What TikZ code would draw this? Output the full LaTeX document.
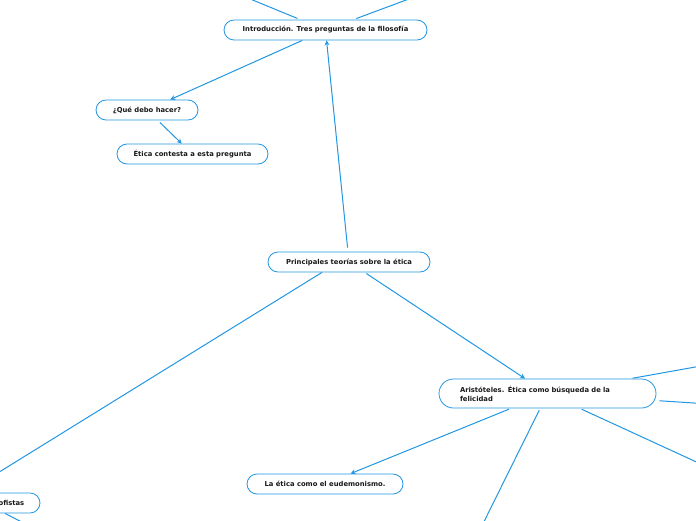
\documentclass[tikz,border=0pt]{standalone}
\usepackage{fontspec}
\setmainfont{DejaVu Sans}
\usepackage{xcolor}
\usepackage{tikz}
\usetikzlibrary{arrows.meta, positioning}

\definecolor{mapblue}{RGB}{33,150,226}
\definecolor{maptext}{RGB}{25,25,25}

\begin{document}
\begin{tikzpicture}[
  x=1pt, y=-1pt,
  font=\fontsize{6.8}{9}\selectfont\bfseries,
  >={Stealth[length=5pt,width=5pt]},
  topic/.style={
    rectangle, rounded corners=10pt, draw=mapblue, fill=white,
    line width=0.8pt, text=maptext, align=center,
    minimum height=20pt, inner ysep=2pt, inner xsep=4pt
  },
  bigtopic/.style={
    topic, rounded corners=14.5pt, align=left,
    minimum height=29pt, inner xsep=21pt
  },
  link/.style={->, line width=1pt, color=mapblue},
]
\useasboundingbox (0,0) rectangle (696,520);
\clip (0,0) rectangle (696,520);
%% Topics
\node[topic, minimum width=203pt] (intro) at (325.5,30) {Introducción. Tres preguntas de la filosofía};
\node[topic, minimum width=102pt] (hacer) at (147,110) {¿Qué debo hacer?};
\node[topic, minimum width=151pt] (contesta) at (192.5,154) {Ética contesta a esta pregunta};
\node[topic, minimum width=162pt] (teorias) at (349,262) {Principales teorías sobre la ética};
\node[bigtopic, text width=175pt] (aristoteles) at (547.5,393.5) {Aristóteles. Ética como búsqueda de la\\felicidad};
\node[topic, minimum width=156pt] (eudemonismo) at (325,484) {La ética como el eudemonismo.};
\node[topic, minimum width=62pt] (sofistas) at (9,503) {Sofistas};
%% Off-page ends
\coordinate (introA) at (204,-20);
\coordinate (introB) at (460,-20);
\coordinate (aristA) at (740,359);
\coordinate (aristB) at (740,406);
\coordinate (aristC) at (740,482);
\coordinate (aristD) at (465,560);
\coordinate (sofA) at (45,534);
%% Links
\draw[link, shorten <=3pt] (intro) -- (introA);
\draw[link, shorten <=3pt] (intro) -- (introB);
\draw[link] (intro) -- (hacer);
\draw[link, shorten <=3pt] (hacer) -- (contesta);
\draw[link, shorten <=4pt] (teorias) -- (intro);
\draw[link, shorten <=2pt] (teorias) -- (aristoteles);
\draw[link] ([xshift=-27pt]teorias.south) -- ([xshift=-43pt]sofistas.north);
\draw[link, shorten <=2pt] (aristoteles) -- (eudemonismo);
\draw[link, shorten <=2pt] (aristoteles) -- (aristA);
\draw[link, shorten <=3pt] (aristoteles) -- (aristB);
\draw[link, shorten <=2pt] (aristoteles) -- (aristC);
\draw[link, shorten <=2pt] (aristoteles) -- (aristD);
\draw[link] ([xshift=-4pt]sofistas.south) -- (sofA);
\end{tikzpicture}
\end{document}
